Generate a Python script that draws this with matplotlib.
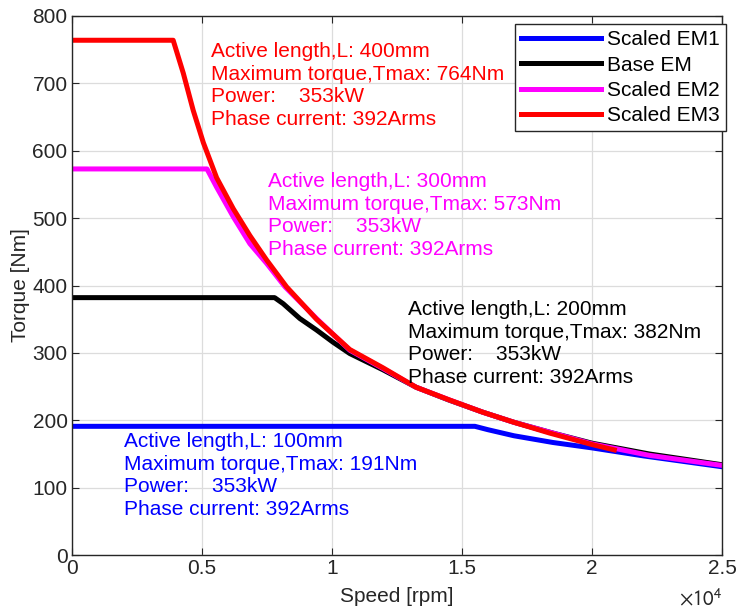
import matplotlib
matplotlib.use("Agg")
import matplotlib.pyplot as plt
from matplotlib.ticker import FuncFormatter, MultipleLocator

plt.rcParams["font.family"] = ["Liberation Sans", "DejaVu Sans"]

# torque-speed envelopes (rpm, Nm)
speed_em1 = [0, 15500, 16000, 17000, 18500, 20000, 22000, 25000]
torque_em1 = [191, 191, 186, 177, 167, 159, 147, 131]

speed_base = [0, 7800, 8130, 8770, 9410, 10040, 10690, 11960, 13240, 14500,
              15800, 17000, 18500, 20000, 22200, 25000]
torque_base = [382, 382, 373, 351, 334, 316, 299, 275, 249, 230,
               212, 197, 181, 166, 150, 134]

speed_em2 = [0, 5200, 5570, 6210, 6850, 7490, 8200, 9410, 10690, 11960,
             13240, 14530, 15800, 17000, 18400, 20000, 22200, 25000]
torque_em2 = [573, 573, 546, 502, 462, 433, 398, 351, 304, 277,
              249, 230, 212, 197, 182, 165, 148, 133]

speed_em3 = [0, 3900, 4290, 4670, 5060, 5570, 6210, 6850, 7490, 8260, 9410,
             10690, 11960, 13240, 14530, 15800, 17000, 18370, 20000, 20860]
torque_em3 = [764, 764, 715, 660, 612, 560, 514, 474, 438, 398, 350,
              305, 278, 249, 230, 212, 197, 181, 164, 156]

labels = ["Scaled EM1", "Base EM", "Scaled EM2", "Scaled EM3"]
colors = ["#0000ff", "#000000", "#ff00ff", "#ff0000"]
lengths = [100, 200, 300, 400]
tmax = [191, 382, 573, 764]
power_kw = 353
current_arms = 392

fig = plt.figure(figsize=(7.38, 6.13), dpi=100)
ax = fig.add_axes([0.0972, 0.0946, 0.9783 - 0.0972, 0.9739 - 0.0946])

series = [(speed_em1, torque_em1), (speed_base, torque_base),
          (speed_em2, torque_em2), (speed_em3, torque_em3)]
for (x, y), lab, c in zip(series, labels, colors):
    ax.plot(x, y, color=c, lw=3.6, label=lab, solid_joinstyle="round")

# annotation blocks (x in rpm, centre y in Nm)
text_pos = [(2010, 118), (12920, 314), (7540, 504), (5350, 697)]
for (tx, ty), L, T, c in zip(text_pos, lengths, tmax, colors):
    s = (f"Active length,L: {L}mm\n"
         f"Maximum torque,Tmax: {T}Nm\n"
         f"Power:    {power_kw}kW\n"
         f"Phase current: {current_arms}Arms")
    ax.text(tx, ty, s, color=c, fontsize=15, va="center", ha="left",
            linespacing=1.24)

ax.set_xlim(0, 25000)
ax.set_ylim(0, 800)
ax.xaxis.set_major_locator(MultipleLocator(5000))
ax.yaxis.set_major_locator(MultipleLocator(100))
ax.xaxis.set_major_formatter(FuncFormatter(lambda v, p: f"{v / 1e4:g}"))
ax.tick_params(direction="in", top=True, right=True, length=5,
               labelsize=15, colors="#262626", width=0.8, pad=3)
ax.grid(True, color="#dcdcdc", lw=0.9)
ax.set_axisbelow(True)
for sp in ax.spines.values():
    sp.set_color("#262626")
    sp.set_linewidth(1.0)

ax.set_xlabel("Speed [rpm]", fontsize=15, color="#262626", labelpad=6)
ax.set_ylabel("Torque [Nm]", fontsize=15, color="#262626", labelpad=2)
ax.text(1.0, -0.06, r"$\times10^4$", transform=ax.transAxes,
        ha="right", va="top", fontsize=15, color="#262626",
        math_fontfamily="stixsans")

leg = ax.legend(loc="upper right", bbox_to_anchor=(1.006, 0.985),
                fontsize=15, handlelength=3.8, handletextpad=0.3,
                labelspacing=0.3, borderpad=0.3, borderaxespad=0,
                fancybox=False, framealpha=1, edgecolor="#262626")
leg.get_frame().set_linewidth(1.0)

fig.savefig("out.png", dpi=100)
